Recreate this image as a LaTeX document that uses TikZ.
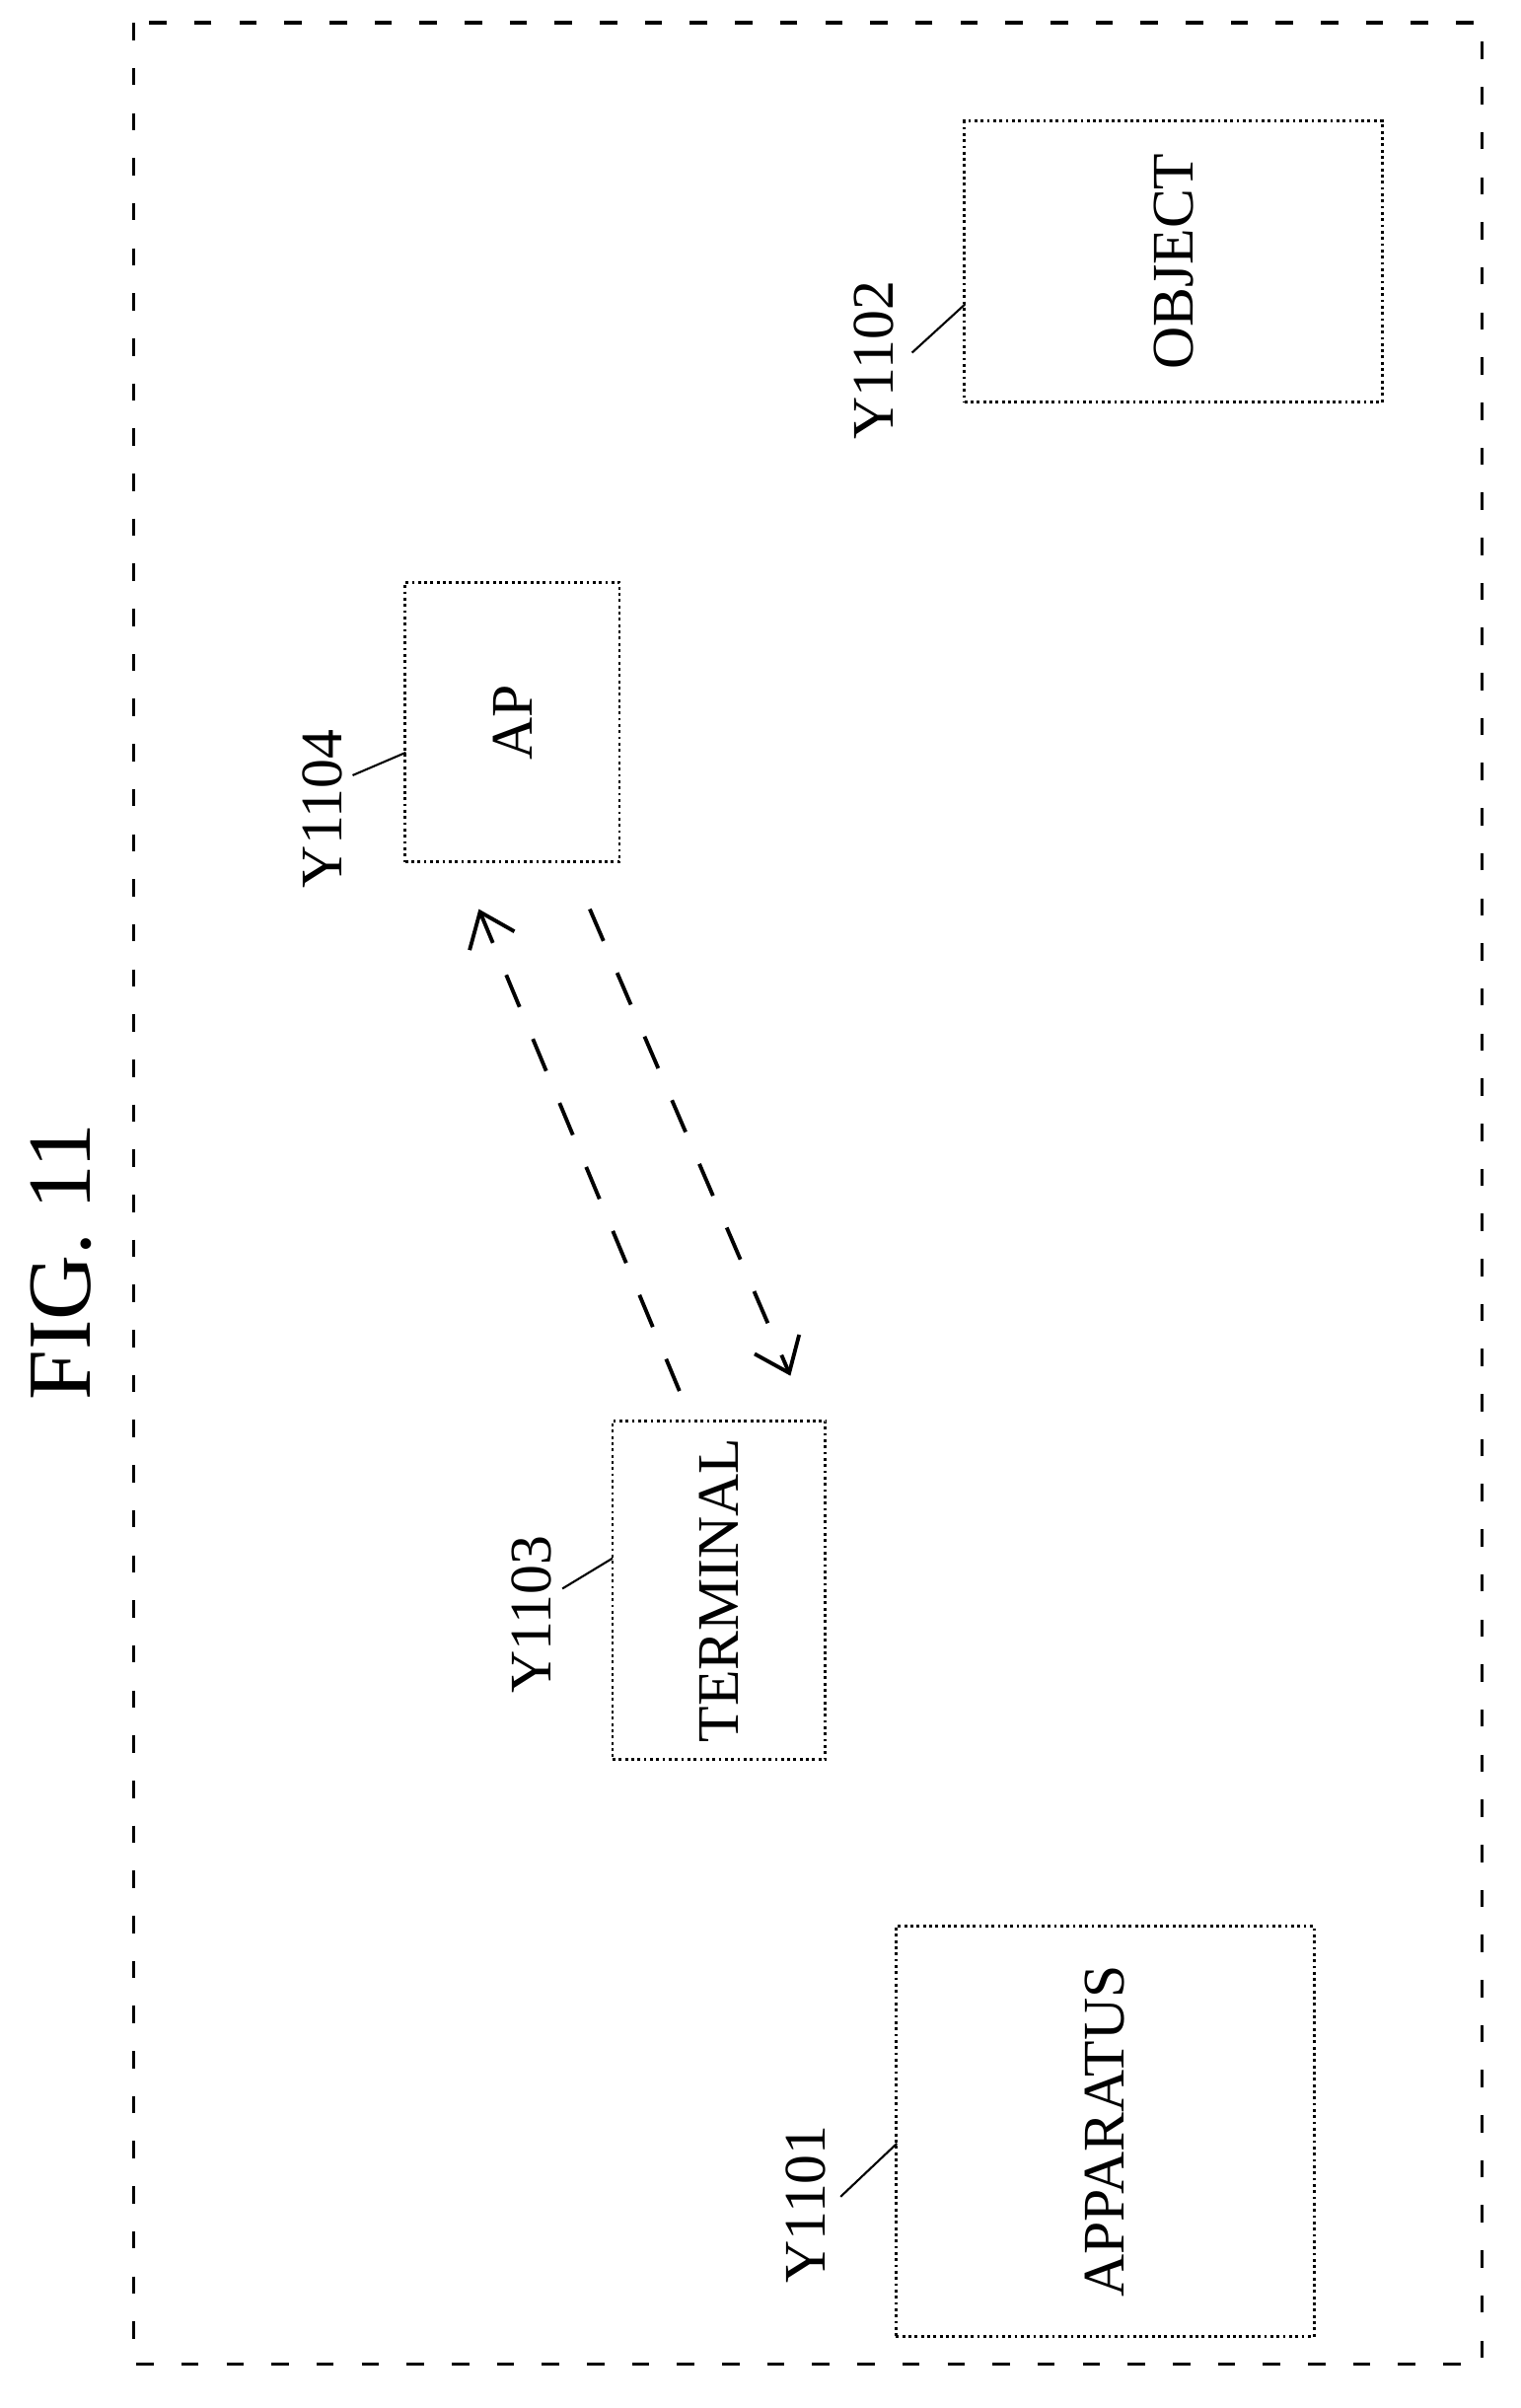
\documentclass[tikz,border=0pt]{standalone}
\usepackage{fontspec}
\usetikzlibrary{arrows.meta}
\setmainfont{Liberation Serif}
\begin{document}
\begin{tikzpicture}[x=0.01541cm,y=-0.01541cm,
  box/.style={draw,densely dotted,line width=0.8pt},
  lbl/.style={rotate=90,font=\fontsize{17}{20}\selectfont},
  lead/.style={line width=0.6pt},
  arr/.style={line width=1.1pt,dash pattern=on 10pt off 10pt,-{Straight Barb[length=9pt,width=14pt]}}]
\useasboundingbox (0,0) rectangle (1000,1584);
\draw[dash pattern=on 5pt off 8pt,line width=1pt] (88,15) rectangle (975,1555);
\node[rotate=90,font=\fontsize{26}{30}\selectfont] (fig) at (40,830) {FIG. 11};
\node[box,minimum width=275*0.01541cm,minimum height=185*0.01541cm] (obj) at (772,172) {};
\node[lbl] at (obj) {OBJECT};
\node[box,minimum width=141*0.01541cm,minimum height=184*0.01541cm] (ap) at (337,475) {};
\node[lbl] at (ap) {AP};
\node[box,minimum width=140*0.01541cm,minimum height=223*0.01541cm] (term) at (473,1046) {};
\node[lbl] at (term) {TERMINAL};
\node[box,minimum width=275*0.01541cm,minimum height=270*0.01541cm] (app) at (727,1402) {};
\node[lbl] at (app) {APPARATUS};
\node[lbl] (l2) at (575,237) {Y1102};
\node[lbl] (l4) at (212,532) {Y1104};
\node[lbl] (l3) at (350,1062) {Y1103};
\node[lbl] (l1) at (530,1450) {Y1101};
\coordinate (a2) at (600,232); \coordinate (b2) at (635,200);
\coordinate (a4) at (232,510); \coordinate (b4) at (267,495);
\coordinate (a3) at (370,1045); \coordinate (b3) at (403,1025);
\coordinate (a1) at (553,1445); \coordinate (b1) at (590,1410);
\draw[lead] (a2)--(b2); \draw[lead] (a4)--(b4); \draw[lead] (a3)--(b3); \draw[lead] (a1)--(b1);
\coordinate (s1) at (447,915); \coordinate (e1) at (315,598);
\coordinate (s2) at (388,598); \coordinate (e2) at (520,905);
\draw[arr] (s1)--(e1);
\draw[arr] (s2)--(e2);
\end{tikzpicture}
\end{document}
